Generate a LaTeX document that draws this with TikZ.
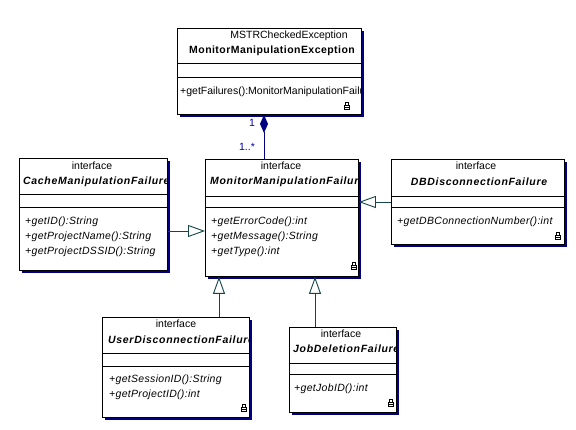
\documentclass[tikz,border=0pt]{standalone}
\usepackage{fontspec}
\setmainfont{Liberation Sans}
\usetikzlibrary{arrows.meta,shadows}
\definecolor{navyc}{RGB}{0,0,128}
\definecolor{labc}{RGB}{0,0,170}
\definecolor{genc}{RGB}{20,70,70}
\tikzset{
  umlbox/.style={draw=black, fill=white, line width=0.9pt, anchor=north west, inner sep=0pt,
    drop shadow={shadow xshift=3pt, shadow yshift=-3pt, opacity=1, fill=navyc}},
  sep/.style={draw=black, line width=0.9pt},
  stxt/.style={font=\fontsize{10.5}{12}\selectfont, inner sep=0pt},
  nmtxt/.style={font=\fontsize{10.5}{12}\selectfont\bfseries\itshape\addfontfeature{LetterSpace=6.5}, inner sep=0pt},
  nmplain/.style={font=\fontsize{10.5}{12}\selectfont\bfseries\addfontfeature{LetterSpace=4.3}, inner sep=0pt},
  mtxt/.style={font=\fontsize{10.5}{12}\selectfont\itshape\addfontfeature{LetterSpace=3}, anchor=west, inner sep=0pt},
  ptxt/.style={font=\fontsize{10.5}{12}\selectfont, anchor=west, inner sep=0pt},
  gen/.style={draw=genc, line width=0.9pt, -{Triangle[open, length=17pt, width=12pt, fill=white]}},
  comp/.style={draw=navyc, line width=0.9pt, -{Diamond[length=18pt, width=8pt, fill=navyc]}},
  mult/.style={font=\fontsize{10.5}{12}\selectfont, text=labc, inner sep=0pt},
  lock/.pic={
    \draw[line width=0.7pt] (-1.2,-0.3) -- (-1.2,-3.2) -- (1.2,-3.2) -- (1.2,-0.3);
    \draw[line width=0.8pt] (-2.3,-0.3) rectangle (2.3,3.2);
    \draw[line width=0.6pt] (-2.3,1.4) -- (2.3,1.4);
  }
}
\begin{document}
\begin{tikzpicture}[x=1pt,y=-1pt]
\useasboundingbox[fill=white] (0,0) rectangle (576,430);

% ---------- top box ----------
\node[umlbox, minimum width=184pt, minimum height=86pt] (top) at (177,28) {};
\draw[sep] (177,63) -- (361,63);
\draw[sep] (177,77) -- (361,77);
\node[stxt] (topst) at (289,36) {MSTRCheckedException};
\node[nmplain] (topnm) at (272,51) {MonitorManipulationException};
\begin{scope}
\clip (177,28) rectangle (360.5,114);
\node[ptxt] (topm) at (180,92) {+getFailures():MonitorManipulationFailure};
\end{scope}
\pic at (347,106) {lock};

% ---------- center box ----------
\node[umlbox, minimum width=153pt, minimum height=117pt] (center) at (205,159) {};
\draw[sep] (205,196) -- (358,196);
\draw[sep] (205,207) -- (358,207);
\node[stxt] (centerst) at (281,166) {interface};
\begin{scope}
\clip (205,159) rectangle (357.5,276);
\node[nmtxt, anchor=west] (centernm) at (210,182) {MonitorManipulationFailure};
\end{scope}
\node[mtxt] (cm1) at (211,222) {+getErrorCode():int};
\node[mtxt] (cm2) at (211,237) {+getMessage():String};
\node[mtxt] (cm3) at (211,252) {+getType():int};
\pic at (354,266) {lock};

% ---------- DB box ----------
\node[umlbox, minimum width=173pt, minimum height=85pt] (db) at (391,159) {};
\draw[sep] (391,196) -- (564,196);
\draw[sep] (391,207) -- (564,207);
\node[stxt] (dbst) at (476,166) {interface};
\node[nmtxt] (dbnm) at (479,182) {DBDisconnectionFailure};
\node[mtxt] (dbm1) at (397,222) {+getDBConnectionNumber():int};
\pic at (558,236) {lock};

% ---------- cache box ----------
\node[umlbox, minimum width=148pt, minimum height=112pt] (cache) at (19,158) {};
\draw[sep] (19,194) -- (167,194);
\draw[sep] (19,207) -- (167,207);
\node[stxt] (cachest) at (92,166) {interface};
\begin{scope}
\clip (19,158) rectangle (166.5,270);
\node[nmtxt, anchor=west] (cachenm) at (23,182) {CacheManipulationFailure};
\end{scope}
\node[mtxt] (ca1) at (25,222) {+getID():String};
\node[mtxt] (ca2) at (25,237) {+getProjectName():String};
\node[mtxt] (ca3) at (25,252) {+getProjectDSSID():String};

% ---------- user box ----------
\node[umlbox, minimum width=147pt, minimum height=100pt] (user) at (102,317) {};
\draw[sep] (102,353) -- (249,353);
\draw[sep] (102,366) -- (249,366);
\node[stxt] (userst) at (176,324) {interface};
\begin{scope}
\clip (102,317) rectangle (248.5,417);
\node[nmtxt, anchor=west] (usernm) at (108,340) {UserDisconnectionFailure};
\end{scope}
\node[mtxt] (um1) at (109,380) {+getSessionID():String};
\node[mtxt] (um2) at (109,395) {+getProjectID():int};
\pic at (244,408) {lock};

% ---------- job box ----------
\node[umlbox, minimum width=107pt, minimum height=85pt] (job) at (289,327) {};
\draw[sep] (289,363) -- (396,363);
\draw[sep] (289,374) -- (396,374);
\node[stxt] (jobst) at (341,334) {interface};
\begin{scope}
\clip (289,327) rectangle (395.5,412);
\node[nmtxt, anchor=west] (jobnm) at (293,349) {JobDeletionFailure};
\end{scope}
\node[mtxt] (jm1) at (294,389) {+getJobID():int};
\pic at (391,403) {lock};

% ---------- connectors ----------
\draw[comp] ([xshift=59pt]center.north west) -- ([xshift=87pt]top.south west);
\node[mult] (m1) at (252,123) {1};
\node[mult] (m2) at (247,147) {1..*};

\draw[gen] ([yshift=-73pt]cache.north east) -- ([yshift=-72pt]center.north west);
\draw[gen] ([yshift=-43pt]db.north west) -- ([yshift=-43pt]center.north east);
\draw[gen] ([xshift=117pt]user.north west) -- ([xshift=14pt]center.south west);
\draw[gen] ([xshift=26pt]job.north west) -- ([xshift=110pt]center.south west);
\end{tikzpicture}
\end{document}
